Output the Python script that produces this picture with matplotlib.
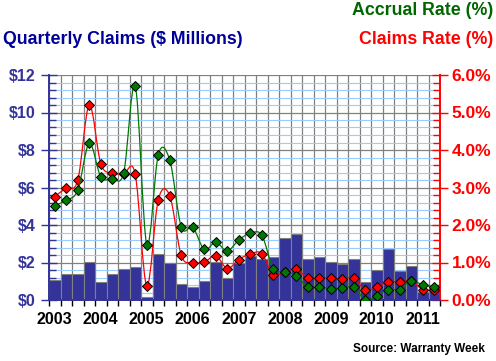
import numpy as np
import matplotlib
matplotlib.use("Agg")
import matplotlib.pyplot as plt
from matplotlib.path import Path
from matplotlib.patches import PathPatch
from matplotlib.ticker import MultipleLocator, FuncFormatter

plt.rcParams["font.family"] = ["Liberation Sans", "DejaVu Sans"]
plt.rcParams["font.weight"] = "bold"

# -------------------------
# Data (2003 Q1 .. 2011 Q2)
# -------------------------
years = ["2003", "2004", "2005", "2006", "2007", "2008", "2009", "2010", "2011"]

claims_musd = [1.07, 1.37, 1.37, 2.03, 0.94, 1.37, 1.65, 1.76,
               0.18, 2.45, 1.97, 0.84, 0.67, 1.01, 2.01, 1.16,
               1.96, 2.36, 2.17, 2.28, 3.29, 3.52, 2.19, 2.28,
               2.03, 1.91, 2.17, 0.96, 1.58, 2.70, 1.55, 1.80,
               0.41, 0.78]

claims_rate = [2.76, 2.99, 3.19, 5.20, 3.64, 3.38, 3.37, 3.35,
               0.38, 2.67, 2.78, 1.19, 1.00, 1.01, 1.18, 0.84,
               1.08, 1.23, 1.24, 0.67, 0.76, 0.82, 0.59, 0.59,
               0.58, 0.57, 0.58, 0.27, 0.34, 0.49, 0.48, 0.51,
               0.28, 0.27]

accrual_rate = [2.52, 2.66, 2.93, 4.18, 3.29, 3.24, 3.40, 5.72,
                1.48, 3.87, 3.73, 1.95, 1.94, 1.35, 1.54, 1.31,
                1.60, 1.78, 1.73, 0.84, 0.76, 0.65, 0.34, 0.35,
                0.30, 0.31, 0.35, 0.00, 0.12, 0.28, 0.28, 0.52,
                0.40, 0.35]

NAVY = "#333399"
GREEN = "#007700"
RED = "#ff0000"


def smooth_path(xs, ys, k=1.0):
    # Catmull-Rom style bezier through the data points
    pts = np.column_stack([xs, ys]).astype(float)
    verts = [pts[0]]
    codes = [Path.MOVETO]
    n = len(pts)
    for i in range(n - 1):
        p0 = pts[max(i - 1, 0)]
        p1 = pts[i]
        p2 = pts[i + 1]
        p3 = pts[min(i + 2, n - 1)]
        c1 = p1 + (p2 - p0) * k / 6.0
        c2 = p2 - (p3 - p1) * k / 6.0
        verts += [c1, c2, p2]
        codes += [Path.CURVE4] * 3
    return Path(verts, codes)


x = np.arange(len(claims_musd))

fig = plt.figure(figsize=(4.96, 3.61), dpi=100)
ax = fig.add_axes([49 / 496, 61 / 361, 391 / 496, 225 / 361])
ax2 = ax.twinx()

# bars
ax.bar(x, claims_musd, width=1.0, color=NAVY, edgecolor="#808080", linewidth=0.8, zorder=2)

ax.set_xlim(-0.5, len(x) - 0.5)
ax.set_ylim(0, 12)
ax2.set_ylim(0, 6)

# grid
ax.set_axisbelow(True)
ax.yaxis.set_major_locator(MultipleLocator(2))
ax.yaxis.set_minor_locator(MultipleLocator(0.4))
ax.xaxis.set_minor_locator(MultipleLocator(1, offset=0.5))
ax.grid(which="minor", axis="y", color="#99ccff", linewidth=0.8, zorder=0)
ax.grid(which="major", axis="y", color="#808080", linewidth=0.9, zorder=0)
ax.grid(which="minor", axis="x", color="#808080", linewidth=0.9, zorder=0)

# x axis labels
ax.set_xticks(np.arange(0, len(x), 4))
ax.set_xticklabels(years)
ax.tick_params(axis="x", which="major", length=0, pad=9, labelsize=11.5, labelcolor="black")
ax.tick_params(axis="x", which="minor", length=4, width=1, color="black", direction="out")

# left axis
ax.yaxis.set_major_formatter(FuncFormatter(lambda v, p: f"${v:.0f}"))
ax.tick_params(axis="y", which="major", direction="inout", length=11, width=1,
               color=NAVY, labelcolor=NAVY, labelsize=11.5, pad=4)
ax.tick_params(axis="y", which="minor", direction="in", length=5, width=1, color=NAVY)

# right axis
ax2.yaxis.set_major_locator(MultipleLocator(1))
ax2.yaxis.set_minor_locator(MultipleLocator(0.2))
ax2.yaxis.set_major_formatter(FuncFormatter(lambda v, p: f"{v:.1f}%"))
ax2.tick_params(axis="y", which="major", direction="inout", length=11, width=1,
                color=RED, labelcolor=RED, labelsize=12.5, pad=3)
ax2.tick_params(axis="y", which="minor", direction="in", length=5, width=1, color=RED)

for a in (ax, ax2):
    a.spines["top"].set_visible(False)
    a.spines["left"].set_color(NAVY)
    a.spines["right"].set_color(RED)
    a.spines["bottom"].set_color(NAVY)
    a.spines["left"].set_linewidth(1.2)
    a.spines["right"].set_linewidth(1.2)
    a.spines["bottom"].set_linewidth(1.2)

# rate lines (smoothed) + diamond markers
ax2.add_patch(PathPatch(smooth_path(x, claims_rate), facecolor="none", edgecolor=RED,
                        linewidth=0.9, zorder=3))
ax2.plot(x, claims_rate, linestyle="none", marker="D", markersize=5.2, markerfacecolor=RED,
         markeredgecolor="black", markeredgewidth=0.7, zorder=4)
ax2.add_patch(PathPatch(smooth_path(x, accrual_rate), facecolor="none", edgecolor=GREEN,
                        linewidth=0.9, zorder=5))
ax2.plot(x, accrual_rate, linestyle="none", marker="D", markersize=5.2, markerfacecolor=GREEN,
         markeredgecolor="black", markeredgewidth=0.7, zorder=6)

# titles
fig.text(493 / 496, 1 - 2 / 361, "Accrual Rate (%)", color="#006600", fontsize=12.8,
         fontweight="bold", ha="right", va="top")
fig.text(493 / 496, 1 - 31 / 361, "Claims Rate (%)", color=RED, fontsize=12.8,
         fontweight="bold", ha="right", va="top")
fig.text(3 / 496, 1 - 31 / 361, "Quarterly Claims ($ Millions)", color="#000099", fontsize=12.8,
         fontweight="bold", ha="left", va="top")
fig.text(485 / 496, 1 - 343 / 361, "Source: Warranty Week", color="black", fontsize=8.5,
         fontweight="bold", ha="right", va="top")

fig.savefig("out.png", dpi=100)
